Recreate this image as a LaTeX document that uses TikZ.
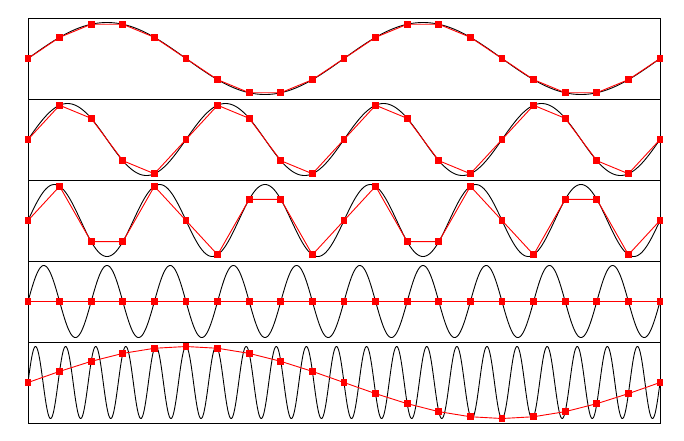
\documentclass[tikz,border=0pt]{standalone}
\begin{document}
\begin{tikzpicture}[x=1pt,y=-1pt,
  frame/.style={draw=black,line width=1pt},
  signal/.style={draw=black,line width=0.9pt},
  samplesig/.style={draw=red,line width=0.9pt},
  samplemark/.style={fill=red}]
\useasboundingbox[fill=white] (0,0) rectangle (684,440);
\foreach \f/\c [count=\i] in {2/58.5,4/139.5,6/220.5,10/301.5,21/382.5}{
  \draw[frame] (28,\c-40.5) rectangle (660,\c+40.5);
  \draw[signal] plot[domain=0:632,samples=1200] ({28+\x},{\c-36*sin((360*\f/632)*\x)});
  \draw[samplesig] plot[samples at={0,...,20}] ({28+\x*31.6},{\c-36*sin(18*\f*\x)});
  \foreach \k in {0,...,20}{
    \pgfmathsetmacro{\px}{28+\k*31.6}
    \pgfmathsetmacro{\py}{\c-36*sin(18*\f*\k)}
    \fill[samplemark] (\px-3.4,\py-3.4) rectangle (\px+3.4,\py+3.4);
  }
}
\end{tikzpicture}
\end{document}
